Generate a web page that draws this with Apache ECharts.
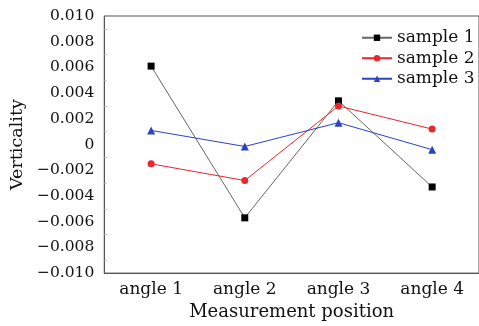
<!DOCTYPE html>
<html><head><meta charset="utf-8">
<script src="https://cdn.jsdelivr.net/npm/echarts@6/dist/echarts.min.js"></script>
<style>html,body{margin:0;padding:0;background:#fff;}#c{width:479px;height:326px;}</style>
</head><body><div id="c"></div>
<script>
var categories = ['angle 1', 'angle 2', 'angle 3', 'angle 4'];
var sample1 = [0.0061, -0.0057, 0.0034, -0.0033];
var sample2 = [-0.0015, -0.0028, 0.0030, 0.0012];
var sample3 = [0.0011, -0.00015, 0.0017, -0.0004];
var yMin = -0.010, yMax = 0.010, yStep = 0.002;

var F = 'DejaVu Serif';
var chart = echarts.init(document.getElementById('c'), null, {renderer: 'canvas'});
function fmt(v) {
  if (Math.abs(v) < 1e-9) return '0';
  var s = Math.abs(v).toFixed(3);
  return (v < 0 ? '\u2212' : '') + s;
}
chart.setOption({
  animation: false,
  backgroundColor: '#fff',
  grid: {left: 100.7, top: 16, width: 381.3, height: 259, show: true, borderColor: '#555', borderWidth: 1, backgroundColor: 'transparent'},
  legend: {
    left: 356, top: 23, orient: 'vertical', itemWidth: 30, itemHeight: 8, itemGap: 1,
    textStyle: {fontFamily: F, fontSize: 17, color: '#111', lineHeight: 19.5, padding: [0, 0, 0, 0]},
    data: ['sample 1', 'sample 2', 'sample 3']
  },
  xAxis: {
    type: 'category', data: categories, boundaryGap: true,
    name: 'Measurement position', nameLocation: 'middle', nameGap: 28,
    nameTextStyle: {fontFamily: F, fontSize: 18, color: '#111'},
    axisLine: {onZero: false, lineStyle: {color: '#555', width: 1}},
    axisTick: {inside: true, length: 4, alignWithLabel: true, lineStyle: {color: '#555'}},
    axisLabel: {fontFamily: F, fontSize: 17, color: '#111', margin: 8},
    splitLine: {show: false}
  },
  yAxis: {
    type: 'value', min: yMin, max: yMax, interval: yStep,
    name: 'Verticality', nameLocation: 'middle', nameGap: 75,
    nameTextStyle: {fontFamily: F, fontSize: 17.5, color: '#111'},
    axisLine: {show: true, lineStyle: {color: '#555', width: 1}},
    axisTick: {inside: true, length: 3, lineStyle: {color: '#555'}},
    minorTick: {show: true, splitNumber: 2, length: 2, lineStyle: {color: '#aaa'}},
    axisLabel: {fontFamily: F, fontSize: 15.5, color: '#111', margin: 10, formatter: fmt},
    splitLine: {show: false}
  },
  series: [
    {name: 'sample 1', type: 'line', data: sample1, symbol: 'rect', symbolSize: 7,
     itemStyle: {color: '#000'}, lineStyle: {color: '#666', width: 1}},
    {name: 'sample 2', type: 'line', data: sample2, symbol: 'circle', symbolSize: 7,
     itemStyle: {color: '#e8262c'}, lineStyle: {color: '#e8262c', width: 1}},
    {name: 'sample 3', type: 'line', data: sample3, symbol: 'triangle', symbolSize: 8,
     itemStyle: {color: '#2a44c0'}, lineStyle: {color: '#2a44c0', width: 1}}
  ]
});
</script></body></html>
